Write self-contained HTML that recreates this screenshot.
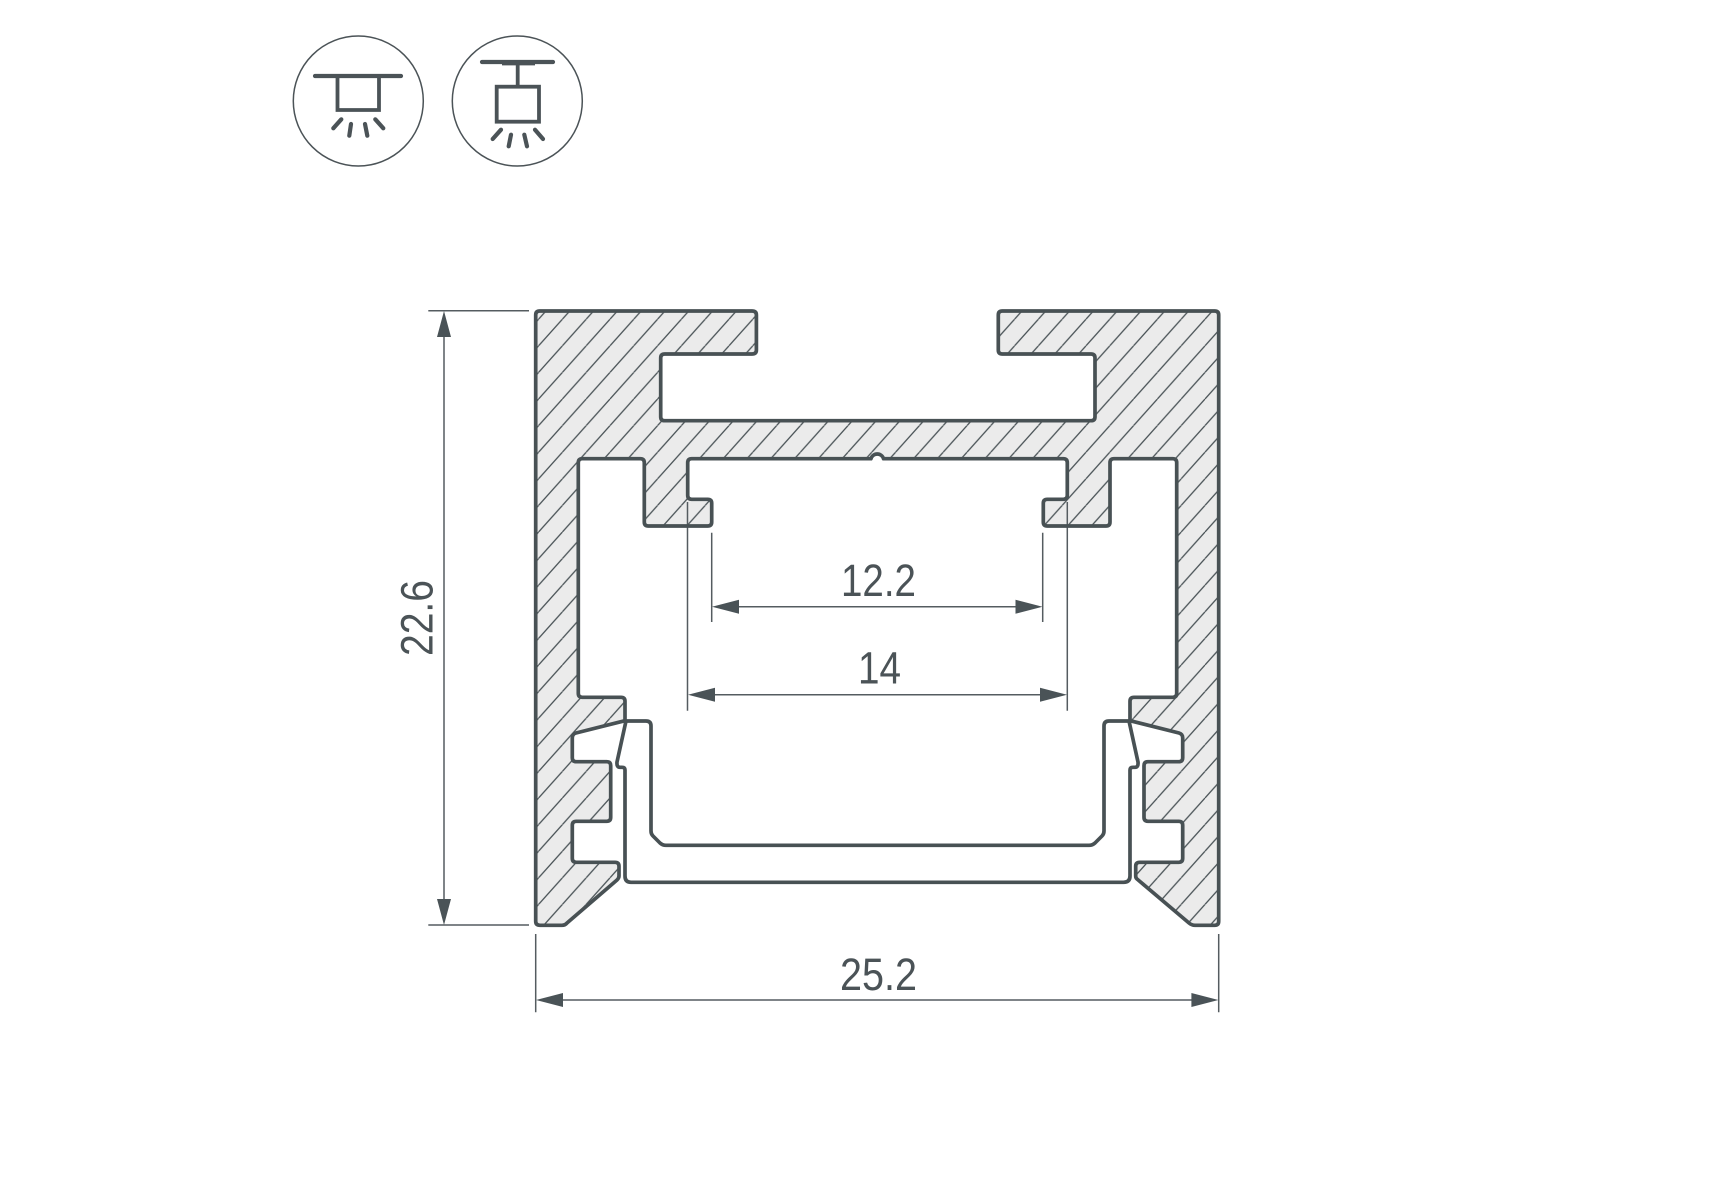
<!DOCTYPE html>
<html><head><meta charset="utf-8"><style>html,body{margin:0;padding:0;background:#fff}svg{display:block}text{font-family:"Liberation Sans",sans-serif;fill:#4b5357;font-size:45px}</style></head><body>
<svg width="1715" height="1200" viewBox="0 0 1715 1200" xmlns="http://www.w3.org/2000/svg">
<defs>
<pattern id="h" patternUnits="userSpaceOnUse" x="-8.8" y="0" width="23.8" height="26.6">
<path d="M0 26.6L23.8 0M-23.8 26.6L0 0M23.8 26.6L47.6 0" stroke="#4a5357" stroke-width="1.3" fill="none"/>
</pattern>
<path id="p" d="M535.7 315Q535.7 311 539.7 311H752Q756.4 311 756.4 315V350Q756.4 354 752 354H664.7Q660.7 354 660.7 358V416.7Q660.7 420.7 664.7 420.7H1091Q1095 420.7 1095 416.7V358Q1095 354 1091 354H1002.3Q998.3 354 998.3 350V315Q998.3 311 1002.3 311H1214.7Q1218.7 311 1218.7 315V921.3Q1218.7 925.3 1214.7 925.3H1195Q1191.7 925.3 1189 923L1137 879Q1135.7 878 1135.7 876V866.3Q1135.7 862.3 1139.7 862.3H1178.7Q1182.7 862.3 1182.7 858.3V825.3Q1182.7 821.3 1178.7 821.3H1148Q1144 821.3 1144 817.3V765.7Q1144 761.7 1148 761.7H1178.7Q1182.7 761.7 1182.7 757.7V738Q1182.7 734 1179 733L1130 720.7V701.3Q1130 697.3 1134 697.3H1172.7Q1176.7 697.3 1176.7 693.3V462.7Q1176.7 458.7 1172.7 458.7H1114Q1110 458.7 1110 462.7V522Q1110 526 1106 526H1047.3Q1043.3 526 1043.3 522V503.3Q1043.3 499.3 1047.3 499.3H1063.3Q1067.3 499.3 1067.3 495.3V462.7Q1067.3 458.7 1063.3 458.7H883.5A6.5 6.5 0 0 0 871 458.7H691.7Q687.7 458.7 687.7 462.7V495.3Q687.7 499.3 691.7 499.3H707.7Q711.7 499.3 711.7 503.3V522Q711.7 526 707.7 526H648.3Q644.3 526 644.3 522V462.7Q644.3 458.7 640.3 458.7H582.3Q578.3 458.7 578.3 462.7V693.3Q578.3 697.3 582.3 697.3H621Q625 697.3 625 701.3V720.7L576 733Q572.3 734 572.3 738V757.7Q572.3 761.7 576.3 761.7H606.7Q610.7 761.7 610.7 765.7V817.3Q610.7 821.3 606.7 821.3H576.3Q572.3 821.3 572.3 825.3V858.3Q572.3 862.3 576.3 862.3H615Q619 862.3 619 866.3V876Q619 878 617 880L567 923Q565 925.3 562 925.3H540Q535.7 925.3 535.7 921.3Z"/>
</defs>
<rect width="1715" height="1200" fill="#fff"/>
<!-- icons -->
<g fill="none" stroke="#4b5357">
<circle cx="358.3" cy="101" r="65" stroke-width="1.5"/>
<circle cx="517.3" cy="101" r="65" stroke-width="1.5"/>
<path d="M315 76H401" stroke-width="4.2" stroke-linecap="round"/>
<path d="M337.5 76V110H379V76" stroke-width="3.8"/>
<path d="M333.3 128.3L341.3 119.3M349.3 135.7L351 124M367.3 135.7L365 124M383.3 128.3L375.3 119.3" stroke-width="4.2" stroke-linecap="round"/>
<path d="M482 62H553" stroke-width="4.2" stroke-linecap="round"/>
<path d="M502 63.5H535" stroke-width="3.8"/>
<path d="M517.7 62V86" stroke-width="3.8"/>
<rect x="496.7" y="86.7" width="42.3" height="35" stroke-width="3.8"/>
<path d="M492.7 139L501 129.7M508.7 146.3L511 134.7M527 146.3L524.3 134.7M543 139L535 129.7" stroke-width="4.2" stroke-linecap="round"/>
</g>
<!-- profile -->
<use href="#p" fill="#ebebeb"/>
<use href="#p" fill="url(#h)"/>
<!-- dimension lines -->
<g stroke="#555c60" stroke-width="1.5" fill="none">
<path d="M687.5 502V710.7M1067.3 502V710.7M711.7 532.7V622M1042.7 532.7V622"/>
<path d="M535.7 934V1012.3M1218.7 934V1012.3"/>
<path d="M428.3 310.8H529M428.3 925H529"/>
<path d="M444 330V905"/>
<path d="M735 606.7H1020M710 694.7H1045M560 1000H1195"/>
</g>
<g fill="#4a5357">
<path d="M712 606.7L739 599.7V613.7ZM1042.5 606.7L1015.5 599.7V613.7Z"/>
<path d="M688 694.7L715 687.7V701.7ZM1067 694.7L1040 687.7V701.7Z"/>
<path d="M536 1000L563 993V1007ZM1218.4 1000L1191.4 993V1007Z"/>
<path d="M444 311L437 337H451ZM444 925L437 899H451Z"/>
</g>
<use href="#p" fill="none" stroke="#485154" stroke-width="3.7" stroke-linejoin="round"/>
<!-- diffuser -->
<path fill="none" stroke="#485154" stroke-width="3.7" stroke-linejoin="round" d="M626 721L617 762Q616.5 767.3 620 767.3H622Q625 767.3 625 770V876Q625 882.3 631 882.3H1123.5Q1130 882.3 1130 876V770Q1130 767.3 1133 767.3H1135Q1138.5 767.3 1138 762L1129 721H1109Q1104 721 1104 726V831Q1104 834 1102 836L1095 843Q1092.5 845.3 1089 845.3H666Q662.5 845.3 660 843L653 836Q651 834 651 831V726Q651 721 646 721Z"/>
<text x="841" y="596" textLength="75" lengthAdjust="spacingAndGlyphs">12.2</text>
<text x="858" y="683.7" textLength="43" lengthAdjust="spacingAndGlyphs">14</text>
<text x="840" y="990" textLength="77" lengthAdjust="spacingAndGlyphs">25.2</text>
<text transform="translate(432.7 656) rotate(-90)" x="0" y="0" textLength="76" lengthAdjust="spacingAndGlyphs">22.6</text>
</svg>
</body></html>
